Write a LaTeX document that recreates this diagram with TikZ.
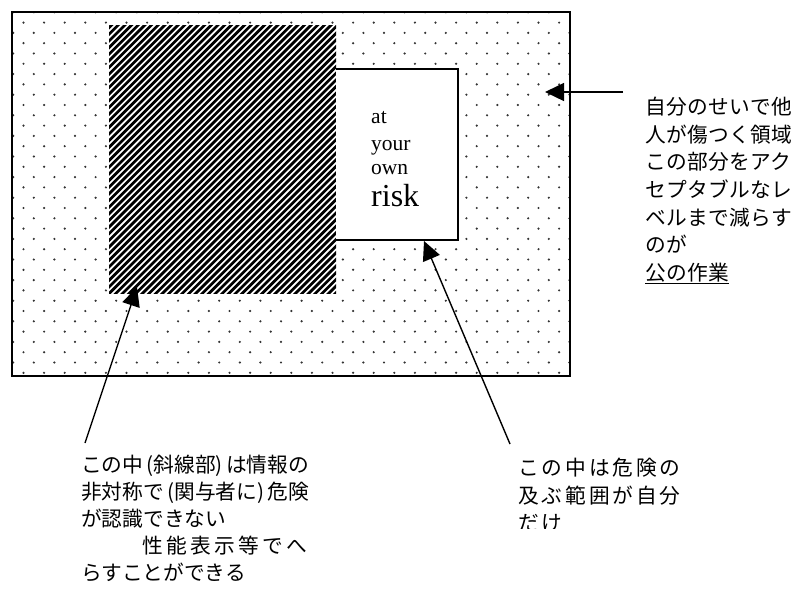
\documentclass[tikz,border=0pt]{standalone}
\usepackage{fontspec}
\setmainfont{Liberation Serif}
\newfontfamily\jp{Noto Sans CJK JP}
\usetikzlibrary{arrows.meta}
\newcommand\myopen{\makebox[0.5em][r]{(}}
\newcommand\myclose{\makebox[0.5em][l]{)}}
\tikzset{
  frameline/.style={line width=1.5pt},
  dotmark/.style={fill=black!80},
  hatchline/.style={line width=2.7pt},
  pointer/.style={line width=1.4pt,-{Triangle[length=19pt,width=18pt]}},
  jptext/.style={inner sep=0pt,anchor=north west,align=left},
  risktext/.style={inner sep=0pt,anchor=base west,font=\fontsize{21.5}{25}\selectfont},
}
\begin{document}
\begin{tikzpicture}[x=1pt,y=-1pt]
\useasboundingbox (0,0) rectangle (799,588);
% dotted area
\begin{scope}
  \clip (12,12) rectangle (570,376);
  \foreach \j in {-28,...,7} {
    \foreach \i in {-6,...,48} {
      \pgfmathtruncatemacro\myparity{mod(\i+\j+100,2)}
      \ifnum\myparity=0
        \fill[dotmark] (75+10.3*\i,300.7+10.3*\j) circle (1.2pt);
      \fi
    }
  }
\end{scope}
% hatched area
\begin{scope}
  \clip (109,26) rectangle (336,293);
  \fill[white] (109,26) rectangle (336,293);
  \foreach \c in {0,...,76} {
    \draw[hatchline] (130+6.65*\c-300,300) -- (130+6.65*\c-10,10);
  }
\end{scope}
% white box
\node[fill=white,inner sep=0pt,minimum width=122pt,minimum height=171pt] (riskbox) at (397,154.5) {};
\draw[frameline] (riskbox.north west) -- (riskbox.north east) -- (riskbox.south east) -- (riskbox.south west);
\node[risktext] (at) at (371,124) {at};
\node[risktext] (your) at (371,150) {your};
\node[risktext] (own) at (371,174) {own};
\node[risktext,font=\fontsize{32}{32}\selectfont] (risk) at (371,206) {risk};
% outer frame
\draw[frameline] (12,12) rectangle (570,376);
% labels
\node[jptext,font=\jp\fontsize{20.7}{27.6}\selectfont\addfontfeature{LetterSpace=2}] (rightlabel) at (645,97)
  {自分のせいで他\\人が傷つく領域\\この部分をアク\\セプタブルなレ\\ベルまで減らす\\のが\\\underline{公の作業}};
\node[jptext,font=\jp\fontsize{20.7}{27}\selectfont] (leftlabel) at (81,455)
  {この中\myopen 斜線部\myclose は情報の\\非対称で\myopen 関与者に\myclose 危険\\が認識できない\\\hspace*{61pt}{\addfontfeature{LetterSpace=16}性能表示等でへ}\\らすことができる};
\begin{scope}
  \clip (500,440) rectangle (799,528);
  \node[jptext,font=\jp\fontsize{20.7}{27.5}\selectfont\addfontfeature{LetterSpace=14}] (midlabel) at (518,458)
    {この中は危険の\\及ぶ範囲が自分\\だけ};
\end{scope}
% arrows
\coordinate (rtail) at (623,92);
\coordinate (rtip) at (545,92);
\coordinate (ltail) at (85,443);
\coordinate (ltip) at (137,287);
\coordinate (mtail) at (510,444);
\coordinate (mtip) at (424,241);
\draw[pointer] (rtail) -- (rtip);
\draw[pointer] (ltail) -- (ltip);
\draw[pointer] (mtail) -- (mtip);
\end{tikzpicture}
\end{document}
